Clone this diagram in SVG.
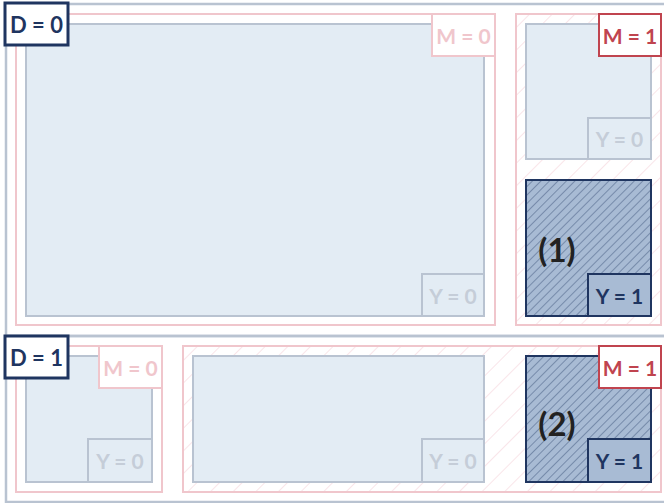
<svg xmlns="http://www.w3.org/2000/svg" width="664" height="503" viewBox="0 0 664 503">
<style>
text{font-family:Lato,"Open Sans","Liberation Sans",sans-serif;font-weight:bold;text-anchor:middle;dominant-baseline:central}
.dbox{fill:none;stroke:#b9c3d1;stroke-width:2.5}
.m0{fill:#fff;stroke:#f0c6cc;stroke-width:2}
.m1{fill:url(#pink);stroke:#f0c6cc;stroke-width:2}
.cell{fill:#e3ecf4;stroke:#b9c3d1;stroke-width:2}
.cellY{fill:url(#navy);stroke:#1f3560;stroke-width:2}
.dl{fill:#fff;stroke:#1f3560;stroke-width:3}
.dt{fill:#1f3560;font-size:22px}
.ml0{fill:#fff;stroke:#f0c6cc;stroke-width:2}
.mt0{fill:#f0c6cc;font-size:21px}
.ml1{fill:#fff;stroke:#c0444f;stroke-width:2}
.mt1{fill:#c0444f;font-size:21px}
.yl0{fill:#e3ecf4;stroke:#b9c3d1;stroke-width:2}
.yt0{fill:#c5cdd8;font-size:21px}
.yl1{fill:#a8bbd4;stroke:#1f3560;stroke-width:2}
.yt1{fill:#1f3560;font-size:21px}
.num{fill:#222;font-size:33px}
</style>
<defs>
<pattern id="pink" width="16" height="16" patternUnits="userSpaceOnUse" patternTransform="rotate(45)">
<rect width="16" height="16" fill="#fff"/>
<line x1="0" y1="0" x2="0" y2="16" stroke="#f3ccd3" stroke-width="1"/>
</pattern>
<pattern id="grey" width="34" height="34" patternUnits="userSpaceOnUse" patternTransform="rotate(45)">
<rect width="34" height="34" fill="#fff"/>
<line x1="0" y1="0" x2="0" y2="34" stroke="#c4cdda" stroke-width="1.2"/>
</pattern>
<pattern id="navy" width="6" height="6" patternUnits="userSpaceOnUse" patternTransform="rotate(45)">
<rect width="6" height="6" fill="#a8bbd4"/>
<line x1="0" y1="0" x2="0" y2="6" stroke="#3a5078" stroke-width="0.9"/>
</pattern>
</defs>

<g id="D1-region">
<rect x="6" y="336" width="664" height="166" fill="url(#grey)" class="dbox"/>
</g>
<g id="D0-region">
<rect x="6" y="4" width="664" height="332" class="dbox"/>
</g>

<g id="D0-M0">
<rect x="16" y="14" width="479" height="311" class="m0"/>
<rect x="26" y="24" width="458" height="292" class="cell"/>
<g id="D0-M0-Y0"><rect x="422" y="274" width="62" height="42" class="yl0"/><text x="453" y="295" class="yt0">Y = 0</text></g>
<g id="D0-M0-label"><rect x="432" y="14" width="63" height="42" class="ml0"/><text x="463.5" y="35" class="mt0">M = 0</text></g>
</g>

<g id="D0-M1">
<rect x="516" y="14" width="145" height="311" class="m1"/>
<rect x="526" y="24" width="125" height="135" class="cell"/>
<g id="D0-M1-Y0"><rect x="588" y="118" width="63" height="41" class="yl0"/><text x="619.5" y="138.5" class="yt0">Y = 0</text></g>
<g id="cell1">
<rect x="526" y="180" width="125" height="136" class="cellY"/>
<text x="557" y="249" class="num">(1)</text>
<rect x="588" y="274" width="63" height="42" class="yl1"/><text x="619.5" y="295" class="yt1">Y = 1</text>
</g>
<g id="D0-M1-label"><rect x="599" y="14" width="62" height="42" class="ml1"/><text x="630" y="35" class="mt1">M = 1</text></g>
</g>

<g id="D1-M0">
<rect x="16" y="346" width="146" height="146" class="m0"/>
<rect x="26" y="356" width="126" height="126" class="cell"/>
<g id="D1-M0-Y0"><rect x="88" y="439" width="64" height="43" class="yl0"/><text x="120" y="460.5" class="yt0">Y = 0</text></g>
<g id="D1-M0-label"><rect x="99" y="346" width="63" height="42" class="ml0"/><text x="130.5" y="367" class="mt0">M = 0</text></g>
</g>

<g id="D1-M1">
<rect x="183" y="346" width="478" height="146" class="m1"/>
<rect x="193" y="356" width="291" height="126" class="cell"/>
<g id="D1-M1-Y0"><rect x="422" y="439" width="62" height="43" class="yl0"/><text x="453" y="460.5" class="yt0">Y = 0</text></g>
<g id="cell2">
<rect x="526" y="356" width="125" height="126" class="cellY"/>
<text x="557" y="423" class="num">(2)</text>
<rect x="588" y="439" width="63" height="43" class="yl1"/><text x="619.5" y="460.5" class="yt1">Y = 1</text>
</g>
<g id="D1-M1-label"><rect x="599" y="346" width="62" height="42" class="ml1"/><text x="630" y="367" class="mt1">M = 1</text></g>
</g>

<g id="D-labels">
<g id="D0-label"><rect x="5" y="3" width="63" height="42" class="dl"/><text x="36.5" y="24" class="dt">D = 0</text></g>
<g id="D1-label"><rect x="5" y="336" width="63" height="42" class="dl"/><text x="36.5" y="357" class="dt">D = 1</text></g>
</g>
<g id="connectors"/>
</svg>
